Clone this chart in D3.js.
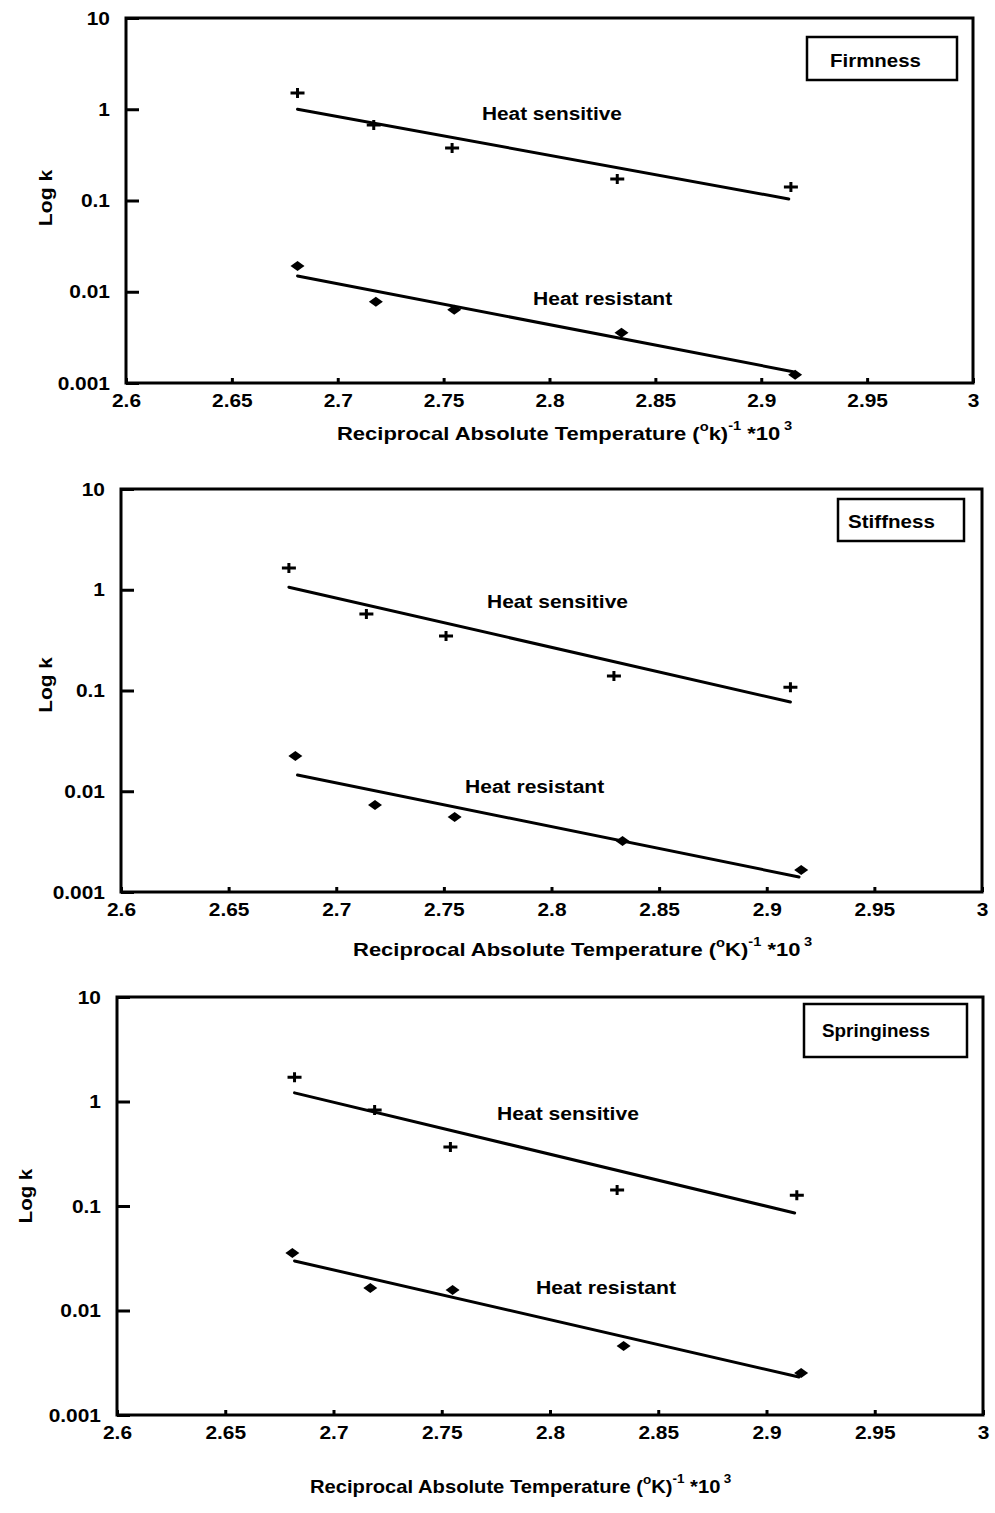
<!DOCTYPE html>
<html>
<head>
<meta charset="utf-8">
<script src="https://cdn.jsdelivr.net/npm/d3@7"></script>
<style>
  html, body { margin: 0; padding: 0; background: #fff; }
  svg { display: block; }
  text { font-family: "Liberation Sans", Arial, Helvetica, sans-serif; font-weight: bold; fill: #000; }
</style>
</head>
<body>
<svg id="chart" width="995" height="1513"></svg>
<script>
// ---------- DATA ----------
const xTicks = [2.6, 2.65, 2.7, 2.75, 2.8, 2.85, 2.9, 2.95, 3];
const xTickLabels = ["2.6", "2.65", "2.7", "2.75", "2.8", "2.85", "2.9", "2.95", "3"];
const yTicks = [0.001, 0.01, 0.1, 1, 10];
const yTickLabels = ["0.001", "0.01", "0.1", "1", "10"];
const panelNames = ["Firmness", "Stiffness", "Springiness"];
const seriesNames = ["Heat sensitive", "Heat resistant"];

// Firmness
const firmnessSensitiveX = [2.681, 2.717, 2.754, 2.832, 2.914];
const firmnessSensitiveY = [1.51, 0.67, 0.377, 0.172, 0.141];
const firmnessSensitiveFitX = [2.681, 2.913];
const firmnessSensitiveFitY = [1.0, 0.104];
const firmnessResistantX = [2.681, 2.718, 2.755, 2.834, 2.916];
const firmnessResistantY = [0.0192, 0.00775, 0.00634, 0.00355, 0.00123];
const firmnessResistantFitX = [2.681, 2.915];
const firmnessResistantFitY = [0.0149, 0.00133];

// Stiffness
const stiffnessSensitiveX = [2.678, 2.714, 2.751, 2.829, 2.911];
const stiffnessSensitiveY = [1.64, 0.574, 0.348, 0.139, 0.108];
const stiffnessSensitiveFitX = [2.678, 2.911];
const stiffnessSensitiveFitY = [1.06, 0.0769];
const stiffnessResistantX = [2.681, 2.718, 2.755, 2.833, 2.916];
const stiffnessResistantY = [0.0224, 0.00731, 0.00555, 0.00321, 0.00165];
const stiffnessResistantFitX = [2.682, 2.915];
const stiffnessResistantFitY = [0.0145, 0.00141];

// Springiness
const springinessSensitiveX = [2.682, 2.719, 2.754, 2.831, 2.914];
const springinessSensitiveY = [1.71, 0.83, 0.367, 0.142, 0.127];
const springinessSensitiveFitX = [2.682, 2.913];
const springinessSensitiveFitY = [1.21, 0.0857];
const springinessResistantX = [2.681, 2.717, 2.755, 2.834, 2.916];
const springinessResistantY = [0.0355, 0.0164, 0.0157, 0.00457, 0.00252];
const springinessResistantFitX = [2.682, 2.915];
const springinessResistantFitY = [0.0298, 0.00231];

const panelData = [
  { sx: firmnessSensitiveX, sy: firmnessSensitiveY, sfx: firmnessSensitiveFitX, sfy: firmnessSensitiveFitY,
    rx: firmnessResistantX, ry: firmnessResistantY, rfx: firmnessResistantFitX, rfy: firmnessResistantFitY, unit: "k" },
  { sx: stiffnessSensitiveX, sy: stiffnessSensitiveY, sfx: stiffnessSensitiveFitX, sfy: stiffnessSensitiveFitY,
    rx: stiffnessResistantX, ry: stiffnessResistantY, rfx: stiffnessResistantFitX, rfy: stiffnessResistantFitY, unit: "K" },
  { sx: springinessSensitiveX, sy: springinessSensitiveY, sfx: springinessSensitiveFitX, sfy: springinessSensitiveFitY,
    rx: springinessResistantX, ry: springinessResistantY, rfx: springinessResistantFitX, rfy: springinessResistantFitY, unit: "K" }
];

// ---------- LAYOUT ----------
const layouts = [
  { left: 126, right: 973, top: 18, bottom: 383,
    legend: { x0: 807, x1: 957, y0: 37, y1: 80, tx: 830, ty: 67, tw: 91 },
    sens: { x: 482, y: 120, w: 140 }, res: { x: 533, y: 305, w: 140 },
    title: { x: 337, y: 440, w: 456 }, ytitle: { x: 45, y: 198, w: 57 } },
  { left: 121, right: 982, top: 489, bottom: 892,
    legend: { x0: 838, x1: 964, y0: 499, y1: 541, tx: 848, ty: 528, tw: 87 },
    sens: { x: 487, y: 608, w: 141 }, res: { x: 465, y: 793, w: 140 },
    title: { x: 353, y: 956, w: 460 }, ytitle: { x: 45, y: 685, w: 56 } },
  { left: 117, right: 983, top: 997, bottom: 1415,
    legend: { x0: 804, x1: 967, y0: 1004, y1: 1057, tx: 822, ty: 1037, tw: 108 },
    sens: { x: 497, y: 1120, w: 142 }, res: { x: 536, y: 1294, w: 141 },
    title: { x: 310, y: 1493, w: 422 }, ytitle: { x: 25, y: 1196, w: 55 } }
];

const svg = d3.select("#chart");
const FS = 19, SX = 1.1;

function fitText(parent, x, y, build, opts) {
  opts = opts || {};
  const g = parent.append("g");
  const t = g.append("text").attr("font-size", opts.size || FS).attr("text-anchor", opts.anchor || "start");
  build(t);
  let s = SX;
  if (opts.width) {
    const w = t.node().getBBox().width;
    s = opts.width / w;
  }
  g.attr("transform", `translate(${x},${y}) rotate(${opts.rotate || 0}) scale(${s},1)`);
  return g;
}

layouts.forEach((L, i) => {
  const D = panelData[i];
  const x = d3.scaleLinear().domain([xTicks[0], xTicks[xTicks.length - 1]]).range([L.left, L.right]);
  const y = d3.scaleLog().domain([yTicks[0], yTicks[yTicks.length - 1]]).range([L.bottom, L.top]);
  const g = svg.append("g");

  // Axes (inward ticks)
  const yAxis = d3.axisLeft(y).tickValues(yTicks).tickSize(-13).tickPadding(16)
    .tickFormat((d, k) => yTickLabels[k]);
  const ya = g.append("g").attr("transform", `translate(${L.left},0)`).call(yAxis);
  const xAxis = d3.axisBottom(x).tickValues(xTicks).tickSize(-5).tickPadding(11)
    .tickFormat((d, k) => xTickLabels[k]);
  const xa = g.append("g").attr("transform", `translate(0,${L.bottom})`).call(xAxis);
  [ya, xa].forEach(a => {
    a.select(".domain").remove();
    a.selectAll(".tick line").attr("stroke", "#000").attr("stroke-width", 3);
    a.selectAll(".tick text").attr("font-size", FS).attr("font-family", null).attr("fill", "#000");
  });
  ya.selectAll(".tick text").each(function () {
    const t = d3.select(this);
    const tx = +t.attr("x");
    t.attr("x", 0).attr("transform", `translate(${tx},0) scale(${SX},1)`);
  });
  xa.selectAll(".tick text").each(function () {
    const t = d3.select(this);
    const ty = +t.attr("y");
    t.attr("y", 0).attr("transform", `translate(0,${ty}) scale(${SX},1)`);
  });

  // Frame
  g.append("rect").attr("x", L.left).attr("y", L.top)
    .attr("width", L.right - L.left).attr("height", L.bottom - L.top)
    .attr("fill", "none").attr("stroke", "#000").attr("stroke-width", 3);

  // Fit lines
  const line = d3.line().x(d => x(d[0])).y(d => y(d[1]));
  [[D.sfx, D.sfy], [D.rfx, D.rfy]].forEach(([fx, fy]) => {
    g.append("path").datum(fx.map((v, k) => [v, fy[k]])).attr("d", line)
      .attr("fill", "none").attr("stroke", "#000").attr("stroke-width", 3).attr("stroke-linecap", "round");
  });

  // Plus markers (heat sensitive)
  g.selectAll(".plus").data(D.sx.map((v, k) => [v, D.sy[k]])).join("path")
    .attr("class", "plus")
    .attr("transform", d => `translate(${x(d[0])},${y(d[1])})`)
    .attr("d", "M-7,0H7M0,-5V5").attr("stroke", "#000").attr("stroke-width", 3).attr("fill", "none");

  // Diamond markers (heat resistant)
  g.selectAll(".dia").data(D.rx.map((v, k) => [v, D.ry[k]])).join("path")
    .attr("class", "dia")
    .attr("transform", d => `translate(${x(d[0])},${y(d[1])})`)
    .attr("d", "M-7,0L0,-5L7,0L0,5Z").attr("fill", "#000");

  // Series labels
  fitText(g, L.sens.x, L.sens.y, t => t.text(seriesNames[0]), { width: L.sens.w });
  fitText(g, L.res.x, L.res.y, t => t.text(seriesNames[1]), { width: L.res.w });

  // Legend box
  g.append("rect").attr("x", L.legend.x0).attr("y", L.legend.y0)
    .attr("width", L.legend.x1 - L.legend.x0).attr("height", L.legend.y1 - L.legend.y0)
    .attr("fill", "none").attr("stroke", "#000").attr("stroke-width", 2.5);
  fitText(g, L.legend.tx, L.legend.ty, t => t.text(panelNames[i]), { width: L.legend.tw });

  // X title (sequential superscripts, no overlap)
  fitText(g, L.title.x, L.title.y, t => {
    t.append("tspan").text("Reciprocal Absolute Temperature (");
    t.append("tspan").attr("font-size", 12).attr("dy", -9).text("o");
    t.append("tspan").attr("dy", 9).text(D.unit + ")");
    t.append("tspan").attr("font-size", 12).attr("dy", -10).text("-1");
    t.append("tspan").attr("dy", 10).text(" *10");
    t.append("tspan").attr("font-size", 12).attr("dx", 3).attr("dy", -10).text("3");
  }, { width: L.title.w, size: 18 });

  // Y title
  fitText(g, L.ytitle.x, L.ytitle.y, t => t.attr("dy", "0.35em").text("Log k"),
    { width: L.ytitle.w, anchor: "middle", rotate: -90 });
});
</script>
</body>
</html>
